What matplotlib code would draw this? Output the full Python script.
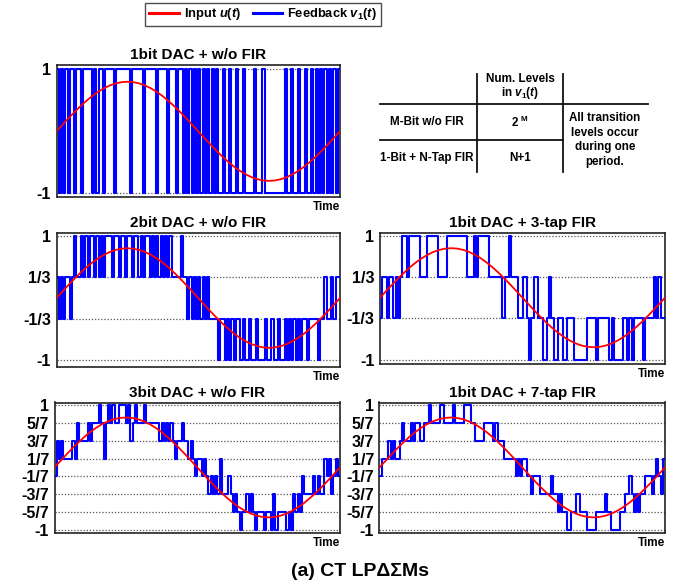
import numpy as np
import matplotlib
matplotlib.use("Agg")
import matplotlib.pyplot as plt
from matplotlib.lines import Line2D

plt.rcParams['font.family'] = ['Liberation Sans', 'DejaVu Sans']
plt.rcParams['font.weight'] = 'bold'
plt.rcParams['mathtext.fontset'] = 'custom'
plt.rcParams['mathtext.it'] = 'Liberation Sans:italic:bold'
plt.rcParams['mathtext.rm'] = 'Liberation Sans:bold'
plt.rcParams['mathtext.bf'] = 'Liberation Sans:bold'

# Input sine u(t), one period, sampled every 7.5 degrees
u_input = [0, .104, .207, .306, .400, .487, .566, .635, .693, .739, .773, .793, .800,
           .793, .773, .739, .693, .635, .566, .487, .400, .306, .207, .104, 0,
           -.104, -.207, -.306, -.400, -.487, -.566, -.635, -.693, -.739, -.773, -.793, -.800,
           -.793, -.773, -.739, -.693, -.635, -.566, -.487, -.400, -.306, -.207, -.104, 0]

# Feedback v1(t) sequences (128 samples per period)
v_1bit = [1, -1, 1, -1, 1, -1, 1, 1, -1, 1, 1, -1, 1, 1, 1, 1,
          -1, 1, -1, 1, 1, -1, 1, 1, 1, 1, -1, 1, 1, 1, 1, 1,
          1, -1, 1, 1, 1, 1, 1, -1, 1, 1, 1, 1, 1, -1, 1, 1,
          1, 1, -1, 1, 1, 1, -1, 1, 1, -1, 1, -1, 1, -1, 1, -1,
          1, -1, 1, -1, 1, -1, 1, -1, 1, -1, -1, 1, -1, -1, 1, -1,
          -1, 1, -1, -1, 1, -1, -1, -1, -1, 1, -1, -1, -1, 1, -1, -1,
          -1, -1, -1, -1, -1, -1, -1, 1, -1, -1, 1, -1, -1, 1, -1, -1,
          1, -1, -1, 1, -1, 1, -1, 1, -1, 1, -1, 1, -1, 1, -1, 1]

# levels in units of 1/3
v_2bit = [1, -1, 1, -1, 1, 1, -1, 1, 3, 1, 1, 3, 1, 3, 1, 3,
          3, 1, 3, 1, 3, 1, 3, 3, 3, 1, 3, 3, 1, 3, 3, 1,
          3, 3, 1, 3, 3, 1, 3, 1, 3, 3, 1, 3, 1, 3, 1, 3,
          1, 3, 1, 3, 1, 1, 1, 1, 3, 1, 1, -1, 1, -1, 1, -1,
          1, -1, 1, -1, 1, -1, -1, -1, -1, -3, -1, -1, -3, -1, -3, -1,
          -3, -1, -1, -3, -1, -3, -3, -1, -3, -3, -1, -3, -3, -3, -1, -3,
          -3, -1, -3, -3, -1, -3, -3, -1, -3, -1, -3, -1, -3, -1, -3, -1,
          -1, -3, -1, -1, -1, -1, -3, -1, -1, 1, -1, -1, 1, -1, 1, 1]

v_3tap = [-1, 1, 1, -1, 1, 1, -1, 1, -1, 1, 3, 3, 1, 3, 3, 3,
          3, 3, 1, 1, 1, 3, 3, 3, 3, 3, 1, 1, 1, 1, 3, 3,
          3, 3, 3, 3, 3, 3, 3, 1, 1, 1, 3, 1, 3, 3, 3, 3,
          3, 1, 1, 1, 1, 1, 1, -1, 1, 1, 3, 1, 1, 1, -1, -1,
          1, 1, -1, -3, -1, 1, 1, -1, -1, -3, -3, -1, 1, -1, -3, -3,
          -1, -1, -3, -3, -1, -1, -1, -3, -3, -3, -3, -3, -3, -1, -1, -1,
          -1, -3, -1, -1, -1, -1, -1, -3, -1, -3, -3, -3, -3, -1, -1, -3,
          -1, -3, -1, -1, -1, -1, -3, -1, -1, -1, -1, 1, -1, 1, -1, -1]

# levels in units of 1/7
v_3bit = [-1, 3, 1, 3, 1, 1, 1, 1, 3, 1, 5, 3, 3, 3, 3, 5,
          3, 5, 5, 5, 7, 5, 1, 5, 7, 5, 7, 5, 5, 7, 7, 7,
          5, 7, 3, 5, 7, 5, 5, 5, 7, 5, 5, 5, 5, 5, 5, 3,
          5, 3, 5, 3, 5, 3, 1, 3, 3, 5, 3, 3, 1, 3, 1, -1,
          1, 1, -1, 1, -1, -3, -1, -3, -1, -3, 1, -3, -3, -3, -1, -3,
          -5, -3, -5, -7, -5, -5, -3, -5, -3, -5, -7, -5, -5, -5, -7, -5,
          -5, -7, -3, -7, -5, -5, -5, -5, -7, -5, -7, -3, -5, -3, -5, -1,
          -3, -3, -3, -3, -1, -3, -1, -3, -3, 1, -1, 1, -3, -1, 1, -1]

v_7tap = [-1, 1, 1, 1, 3, 1, 3, 1, 1, 3, 5, 3, 3, 3, 5, 3,
          5, 5, 3, 3, 5, 5, 7, 5, 5, 5, 5, 7, 7, 5, 5, 5,
          5, 7, 5, 5, 5, 5, 7, 7, 7, 5, 5, 3, 3, 3, 3, 5,
          5, 5, 5, 3, 5, 3, 3, 3, 1, 1, 1, 1, 1, -1, 1, -1,
          1, 1, -1, -1, -3, -1, -1, -1, -3, -3, -3, -3, -3, -1, -3, -3,
          -5, -3, -5, -5, -7, -7, -5, -5, -3, -3, -5, -5, -5, -7, -7, -7,
          -7, -5, -5, -5, -5, -3, -5, -5, -7, -7, -7, -7, -5, -5, -3, -3,
          -1, -3, -5, -3, -5, -3, -3, -1, -1, -1, -3, -1, 1, -1, -3, 1]

levels_2 = [-1, 1]
labels_2 = ['-1', '1']
levels_4 = [-3, -1, 1, 3]
labels_4 = ['-1', '-1/3', '1/3', '1']
levels_8 = [-7, -5, -3, -1, 1, 3, 5, 7]
labels_8 = ['-1', '-5/7', '-3/7', '-1/7', '1/7', '3/7', '5/7', '1']

titles = ['1bit DAC + w/o FIR', '2bit DAC + w/o FIR', '1bit DAC + 3-tap FIR',
          '3bit DAC + w/o FIR', '1bit DAC + 7-tap FIR']

W, H = 683, 586
fig = plt.figure(figsize=(W / 100, H / 100), dpi=100)


def px_axes(x0, y0, x1, y1):
    return fig.add_axes([x0 / W, 1 - y1 / H, (x1 - x0) / W, (y1 - y0) / H])


def panel(ax, seq, scale, levels, labels, title, ylim):
    seq = np.asarray(seq, dtype=float) / scale
    n = len(seq)
    t = np.arange(n + 1) / n
    ax.step(t, np.r_[seq, seq[-1]], where='post', color='#0000ff', lw=1.5, zorder=3)
    tu = np.linspace(0, 1, len(u_input))
    ax.plot(tu, u_input, color='#ff0000', lw=1.3, zorder=4)
    lv = np.asarray(levels, dtype=float) / scale
    for y in lv:
        ax.axhline(y, color='#555555', lw=0.9, ls=(0, (1, 1.5)), zorder=1)
    ax.set_xlim(0, 1)
    ax.set_ylim(*ylim)
    ax.set_xticks([])
    ax.set_yticks(lv)
    ax.set_yticklabels(labels, fontsize=11.5, fontweight='bold')
    ax.tick_params(axis='y', length=0, pad=4)
    for s in ax.spines.values():
        s.set_linewidth(1.2)
        s.set_color('#222222')
    ax.set_title(title, fontsize=11, fontweight='bold', pad=4)
    ax.text(1.0, -0.03, 'Time', transform=ax.transAxes, ha='right', va='top',
            fontsize=8.5, fontweight='bold')


ax1 = px_axes(56.5, 65, 340, 197)
panel(ax1, v_1bit, 1, levels_2, labels_2, titles[0], (-1.06, 1.07))

ax2 = px_axes(56.5, 233, 340, 366.5)
panel(ax2, v_2bit, 3, levels_4, labels_4, titles[1], (-1.1, 1.045))

ax3 = px_axes(380, 233, 665, 364)
panel(ax3, v_3tap, 3, levels_4, labels_4, titles[2], (-1.07, 1.045))

ax4 = px_axes(54.5, 402.5, 340, 533)
panel(ax4, v_3bit, 7, levels_8, labels_8, titles[3], (-1.05, 1.04))

ax5 = px_axes(379.5, 402.5, 665, 533)
panel(ax5, v_7tap, 7, levels_8, labels_8, titles[4], (-1.05, 1.04))

# Summary table drawn with lines and text in figure pixel coordinates
tab = fig.add_axes([0, 0, 1, 1], facecolor='none')
tab.set_xlim(0, W)
tab.set_ylim(H, 0)
tab.axis('off')
lk = dict(color='#111111', lw=1.3)
tab.plot([476.7, 476.7], [74, 172], **lk)
tab.plot([562.7, 562.7], [74, 172], **lk)
tab.plot([380, 648], [104, 104], **lk)
tab.plot([380, 562.7], [140, 140], **lk)
tk = dict(ha='center', va='center', fontsize=8.4, fontweight='bold')
tab.text(520, 79, 'Num. Levels', **tk)
tab.text(520, 93, r'in $\it{v_1(t)}$', **tk)
tab.text(427, 122, 'M-Bit w/o FIR', **tk)
tab.text(520, 122, r'2 $^{\rm M}$', **tk)
tab.text(427, 158, '1-Bit + N-Tap FIR', **tk)
tab.text(520, 158, 'N+1', **tk)
tab.text(605, 140, 'All transition\nlevels occur\nduring one\nperiod.',
         linespacing=1.3, **tk)

# Bottom caption
tab.text(360, 572, '(a) CT LPΔΣMs', ha='center', va='center', fontsize=14,
         fontweight='bold')

# Legend
handles = [Line2D([], [], color='#ff0000', lw=2.2),
           Line2D([], [], color='#0000ff', lw=2.2)]
leg = fig.legend(handles, [r'Input $\it{u(t)}$', r'Feedback $\it{v_1(t)}$'],
                 loc='center', bbox_to_anchor=(263 / W, 1 - 14.5 / H), ncol=2,
                 frameon=True, fancybox=False, edgecolor='#222222',
                 prop={'weight': 'bold', 'size': 9.3},
                 handlelength=2.3, columnspacing=0.9, handletextpad=0.4,
                 borderpad=0.3, borderaxespad=0)
leg.get_frame().set_linewidth(1.0)

fig.savefig('out.png', dpi=100)
